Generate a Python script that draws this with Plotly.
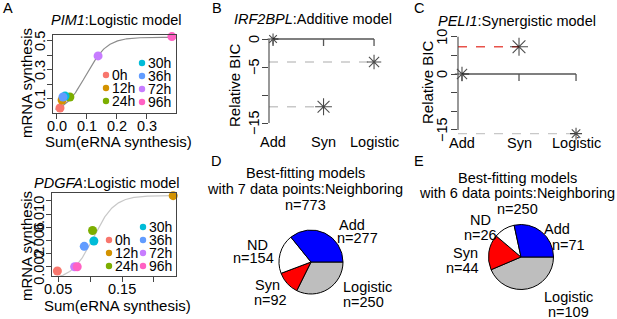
import numpy as np
import plotly.graph_objects as go

W, H = 617, 319
FONT = "Liberation Sans, Arial, sans-serif"

def X(p):
    return p / W

def Y(p):
    return 1 - p / H

# ---------------- data ----------------
times = ["0h", "12h", "24h", "30h", "36h", "72h", "96h"]
time_colors = ["#F8766D", "#D39200", "#7CAE00", "#00BCD8", "#619CFF", "#C77CFF", "#FF61C3"]

pim1_x = [0.010, 0.017, 0.043, 0.027, 0.020, 0.137, 0.383]
pim1_y = [0.038, 0.093, 0.114, 0.120, 0.114, 0.397, 0.530]
pim1_fit = dict(L=0.525, k=28.4, x0=0.096)
pim1_xticks = [0.0, 0.1, 0.2, 0.3]
pim1_xticklabels = ["0.0", "0.1", "0.2", "0.3"]
pim1_yticks = [0.1, 0.2, 0.3, 0.4, 0.5]
pim1_yticklabels = ["0.1", "", "0.3", "", "0.5"]

pdgfa_x = [0.049, 0.230, 0.104, 0.106, 0.091, 0.076, 0.080]
pdgfa_y = [0.00135, 0.0128, 0.0075, 0.0059, 0.0051, 0.0020, 0.0020]
pdgfa_fit = dict(L=0.0128, k=60.0, x0=0.105)
pdgfa_xticks = [0.05, 0.10, 0.15, 0.20]
pdgfa_xticklabels = ["0.05", "", "0.15", ""]
pdgfa_yticks = [0.002, 0.004, 0.006, 0.008, 0.010, 0.012]
pdgfa_yticklabels = ["0.002", "", "0.006", "", "0.010", ""]

models = ["Add", "Syn", "Logistic"]
irf2bpl_bic = [0.0, -12.1, -4.1]
peli1_bic = [0.0, 7.3, -16.0]
irf2bpl_yticks = [0, -5, -10, -15]
irf2bpl_yticklabels = ["0", "\u22125", "", "\u221215"]
peli1_yticks = [10, 5, 0, -5, -10, -15]
peli1_yticklabels = ["10", "", "0", "", "", "\u221215"]

pie_labels = ["Add", "ND", "Syn", "Logistic"]
pie_colors = ["#0000FF", "#FFFFFF", "#FF0000", "#BEBEBE"]
pie7_counts = [277, 154, 92, 250]
pie6_counts = [71, 26, 44, 109]

fig = go.Figure()
ann = []
shapes = []

def text(x, y, s, size=14.5, angle=0, xa="center", ya="middle", xref="paper", yref="paper", color="black"):
    ann.append(dict(x=x, y=y, text=s, showarrow=False, xref=xref, yref=yref,
                    xanchor=xa, yanchor=ya, textangle=angle, borderpad=0,
                    font=dict(family=FONT, size=size, color=color)))

# ---------------- Panel A top: PIM1 ----------------
xs = np.linspace(-0.005, 0.38, 200)
fig.add_trace(go.Scatter(x=xs, y=pim1_fit["L"] / (1 + np.exp(-pim1_fit["k"] * (xs - pim1_fit["x0"]))),
                         mode="lines", line=dict(color="#8C8C8C", width=1.2),
                         xaxis="x", yaxis="y", showlegend=False, hoverinfo="skip"))
fig.add_trace(go.Scatter(x=pim1_x, y=pim1_y, mode="markers",
                         marker=dict(color=time_colors, size=9), cliponaxis=False,
                         xaxis="x", yaxis="y", showlegend=False))

# ---------------- Panel A bottom: PDGFA ----------------
xs2 = np.linspace(0.045, 0.23, 200)
fig.add_trace(go.Scatter(x=xs2, y=pdgfa_fit["L"] / (1 + np.exp(-pdgfa_fit["k"] * (xs2 - pdgfa_fit["x0"]))),
                         mode="lines", line=dict(color="#C8C8C8", width=1.2),
                         xaxis="x2", yaxis="y2", showlegend=False, hoverinfo="skip"))
fig.add_trace(go.Scatter(x=pdgfa_x, y=pdgfa_y, mode="markers",
                         marker=dict(color=time_colors, size=9), cliponaxis=False,
                         xaxis="x2", yaxis="y2", showlegend=False))

# tick labels for A panels
for v, s in zip(pim1_xticks, pim1_xticklabels):
    text(v, Y(126), s, xref="x")
for v, s in zip(pim1_yticks, pim1_yticklabels):
    if s:
        text(X(40), v, s, yref="y", angle=-90)
for v, s in zip(pdgfa_xticks, pdgfa_xticklabels):
    if s:
        text(v, Y(289), s, xref="x2")
for v, s in zip(pdgfa_yticks, pdgfa_yticklabels):
    if s:
        text(X(39), v, s, yref="y2", angle=-90)

# legends for A (two columns)
def time_legend(left_x, right_x, left_rows, right_rows):
    cols = [(left_x, left_rows, times[:3], time_colors[:3]),
            (right_x, right_rows, times[3:], time_colors[3:])]
    for cx, rows, labs, cols_ in cols:
        for ry, lab, c in zip(rows, labs, cols_):
            r = 3.2
            shapes.append(dict(type="circle", xref="paper", yref="paper",
                               x0=X(cx - r), x1=X(cx + r), y0=Y(ry + r), y1=Y(ry - r),
                               fillcolor=c, line=dict(width=0)))
            text(X(cx + 5), Y(ry), lab, xa="left", size=14)

time_legend(106, 142, [75, 88, 101], [63, 76, 89, 102])
time_legend(109, 143, [240, 253, 266], [227, 240, 253, 266])

# ---------------- axes ----------------
box_axis = dict(showgrid=False, zeroline=False, ticks="outside", ticklen=5,
                tickcolor="#444444", tickwidth=1.1, showticklabels=False,
                showline=True, mirror=True, linecolor="#444444", linewidth=1.1)
bic_axis = dict(showgrid=False, zeroline=False, ticks="outside", ticklen=6,
                tickcolor="#444444", tickwidth=1.1, showticklabels=False, showline=False)

fig.update_layout(
    xaxis=dict(domain=[X(53), X(176)], range=[-0.0133, 0.3967], anchor="y",
               tickvals=pim1_xticks, **box_axis),
    yaxis=dict(domain=[Y(113), Y(35)], range=[0.0034, 0.541], anchor="x",
               tickvals=pim1_yticks, **box_axis),
    xaxis2=dict(domain=[X(52), X(176)], range=[0.0406, 0.2344], anchor="y2",
                tickvals=pdgfa_xticks, **box_axis),
    yaxis2=dict(domain=[Y(276), Y(193)], range=[0.00059, 0.0132], anchor="x2",
                tickvals=pdgfa_yticks, **box_axis),
    xaxis3=dict(domain=[X(269), X(385)], range=[0.92, 3.217], anchor="y3", visible=False),
    yaxis3=dict(domain=[Y(125.8), Y(36.2)], range=[-15.5, 0.5], anchor="x3",
                tickvals=irf2bpl_yticks, **bic_axis),
    xaxis4=dict(domain=[X(458), X(590)], range=[0.93, 3.245], anchor="y4", visible=False),
    yaxis4=dict(domain=[Y(137.4), Y(33)], range=[-17, 11], anchor="x4",
                tickvals=peli1_yticks, **bic_axis),
)

# ---------------- Panels B, C ----------------
pos = [1, 2, 3]
def bic_panel(xa, ya, xmin, vals, best_color, sizes):
    fig.add_trace(go.Scatter(x=[pos[0], pos[-1]], y=[0, 0], mode="lines",
                             line=dict(color="#555555", width=1.3),
                             xaxis=xa, yaxis=ya, showlegend=False, hoverinfo="skip"))
    for p in pos:
        shapes.append(dict(type="line", xref=xa, yref=ya, ysizemode="pixel", yanchor=0,
                           x0=p, x1=p, y0=0, y1=-7, line=dict(color="#555555", width=1.3)))
    for p, v in zip(pos, vals):
        if v == 0:
            continue
        c = best_color if v > 0 else "#C8C8C8"
        fig.add_trace(go.Scatter(x=[xmin, p], y=[v, v], mode="lines",
                                 line=dict(color=c, width=1.4, dash="dash"),
                                 xaxis=xa, yaxis=ya, showlegend=False, hoverinfo="skip"))
    fig.add_trace(go.Scatter(x=pos, y=vals, mode="markers", cliponaxis=False,
                             marker=dict(symbol="asterisk-open", size=sizes, color="black",
                                         line=dict(color="black", width=1.1)),
                             xaxis=xa, yaxis=ya, showlegend=False))

bic_panel("x3", "y3", 0.92, irf2bpl_bic, "#E8524A", [9, 14, 12])
bic_panel("x4", "y4", 0.93, peli1_bic, "#E8524A", [12, 15, 10])

shapes.append(dict(type="line", xref="x3 domain", yref="y3", x0=0, x1=0,
                   y0=min(irf2bpl_yticks), y1=max(irf2bpl_yticks),
                   line=dict(color="#444444", width=1.1)))
shapes.append(dict(type="line", xref="x4 domain", yref="y4", x0=0, x1=0,
                   y0=min(peli1_yticks), y1=max(peli1_yticks),
                   line=dict(color="#444444", width=1.1)))

for v, s in zip(irf2bpl_yticks, irf2bpl_yticklabels):
    if s:
        text(X(254), v, s, yref="y3", angle=-90)
for v, s in zip(peli1_yticks, peli1_yticklabels):
    if s:
        text(X(442), v, s, yref="y4", angle=-90)

for p, m in zip(pos, models):
    text(p, Y(142), m, xref="x3")
    text(p, Y(143), m, xref="x4")

# ---------------- Pies ----------------
def pie(vals, cx, cy, r):
    # R-style pie: first slice starts at 3 o'clock, goes counter-clockwise
    fig.add_trace(go.Pie(values=vals[::-1], labels=pie_labels[::-1], sort=False, direction="clockwise",
                         rotation=90, textinfo="none", hoverinfo="label+value",
                         marker=dict(colors=pie_colors[::-1], line=dict(color="black", width=1)),
                         domain=dict(x=[X(cx - r), X(cx + r)], y=[Y(cy + r), Y(cy - r)]),
                         showlegend=False))

pie(pie7_counts, 311, 262, 32)
pie(pie6_counts, 521, 257, 32.5)

# ---------------- Titles / labels ----------------
text(X(116), Y(20), "<i>PIM1</i>:Logistic model")
text(X(107), Y(183), "<i>PDGFA</i>:Logistic model")
text(X(313), Y(19), "<i>IRF2BPL</i>:Additive model")
text(X(517), Y(21), "<i>PELI1</i>:Synergistic model")

text(X(26), Y(83), "mRNA synthesis", size=15, angle=-90)
text(X(118), Y(141), "Sum(eRNA synthesis)", size=15)
text(X(26), Y(246), "mRNA synthesis", size=15, angle=-90)
text(X(117), Y(305), "Sum(eRNA synthesis)", size=15)
text(X(235), Y(85), "Relative BIC", size=15, angle=-90)
text(X(427), Y(82), "Relative BIC", size=15, angle=-90)

text(X(305), Y(173), "Best-fitting models")
text(X(305), Y(189), "with 7 data points:Neighboring")
text(X(305), Y(205), "n=773")
text(X(517), Y(178), "Best-fitting models")
text(X(517), Y(193), "with 6 data points:Neighboring")
text(X(517), Y(209), "n=250")

for s, (x, y) in zip(["Add", "n=277", "ND", "n=154", "Syn", "n=92", "Logistic", "n=250"],
                     [(352, 225), (357, 238), (257, 245), (253, 258), (267, 285), (270, 300), (367, 287), (363, 302)]):
    text(X(x), Y(y), s)
for s, (x, y) in zip(["ND", "n=26", "Add", "n=71", "Syn", "n=44", "Logistic", "n=109"],
                     [(480, 220), (480, 235), (557, 229), (568, 245), (465, 253), (463, 268), (568, 297), (568, 312)]):
    text(X(x), Y(y), s)

for s, (x, y) in zip("ABCDE", [(8, 8), (217, 8), (419, 8), (216, 161), (419, 161)]):
    text(X(x), Y(y), s, size=14.5)

fig.update_layout(width=W, height=H, margin=dict(l=0, r=0, t=0, b=0),
                  paper_bgcolor="white", plot_bgcolor="white",
                  annotations=ann, shapes=shapes, showlegend=False,
                  font=dict(family=FONT, size=14.5, color="black"))

fig.write_html("out.html", config={"displayModeBar": False},
               post_script="document.body.style.margin='0px';")
